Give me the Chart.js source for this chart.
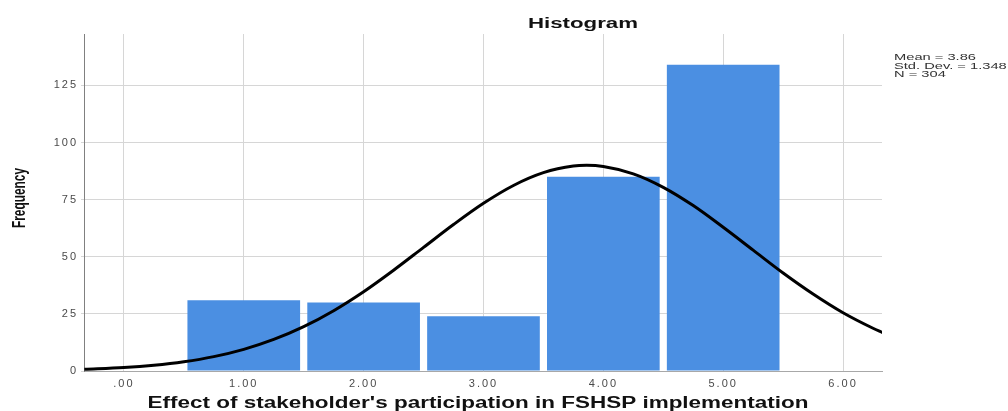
<!DOCTYPE html>
<html>
<head>
<meta charset="utf-8">
<script src="https://cdn.jsdelivr.net/npm/chart.js@4.4.1/dist/chart.umd.min.js"></script>
<style>
  html, body { margin: 0; padding: 0; background: #ffffff; }
  #wrap { width: 1008px; height: 411px; position: relative; }
</style>
</head>
<body>
<div id="wrap"><canvas id="chart"></canvas></div>
<script>
// Histogram bins (bin centre) and their counts
const binCenters = [1, 2, 3, 4, 5];
const frequencies = [31, 30, 24, 85, 134];

// Fitted normal curve, sampled along the x axis
const curveX = [-0.33, 0, 0.25, 0.5, 0.75, 1, 1.25, 1.5, 1.75, 2, 2.25, 2.5, 2.75, 3, 3.25, 3.5, 3.75, 3.86, 4, 4.25, 4.5, 4.75, 5, 5.25, 5.5, 5.75, 6, 6.25, 6.33];
const curveY = [0.72, 1.49, 2.49, 4.02, 6.28, 9.47, 13.8, 19.4, 26.4, 34.7, 44.1, 54.1, 64.1, 73.4, 81.2, 86.8, 89.7, 90.0, 89.5, 86.3, 80.4, 72.4, 62.9, 52.9, 42.9, 33.7, 25.5, 18.7, 16.8];

// Axis ticks
const xTickValues = [0, 1, 2, 3, 4, 5, 6];
const yTickValues = [0, 25, 50, 75, 100, 125];

// Text
const chartTitle = 'Histogram';
const xTitle = "Effect of stakeholder's participation in FSHSP implementation";
const yTitle = 'Frequency';
const statLines = ['Mean = 3.86', 'Std. Dev. = 1.348', 'N = 304'];

const FONT = "'Liberation Sans', Arial, sans-serif";

function drawStretched(ctx, text, x, y, font, sx, align, sy) {
  ctx.save();
  ctx.font = font;
  ctx.textAlign = align;
  ctx.textBaseline = 'alphabetic';
  ctx.translate(x, y);
  ctx.scale(sx, sy || 1);
  ctx.fillText(text, 0, 0);
  ctx.restore();
}

function fitWidth(ctx, text, font, width) {
  ctx.save();
  ctx.font = font;
  const w = ctx.measureText(text).width;
  ctx.restore();
  return width / w;
}

const textPlugin = {
  id: 'histText',
  beforeDraw(chart) {
    chart.ctx.letterSpacing = '2px';
  },
  afterDraw(chart) {
    const ctx = chart.ctx;
    ctx.letterSpacing = '0px';
    ctx.fillStyle = '#111111';

    const tFont = 'bold 14px ' + FONT;
    drawStretched(ctx, chartTitle, 583, 28, tFont, fitWidth(ctx, chartTitle, tFont, 110), 'center');

    const xFont = 'bold 16px ' + FONT;
    drawStretched(ctx, xTitle, 478, 408, xFont, fitWidth(ctx, xTitle, xFont, 661), 'center');

    // Vertical axis title, narrow bold with tall glyphs
    const yFont = "bold 14px 'Liberation Sans Narrow', 'Liberation Sans', Arial, sans-serif";
    const ySx = fitWidth(ctx, yTitle, yFont, 60);
    ctx.save();
    ctx.translate(25, 198);
    ctx.rotate(-Math.PI / 2);
    drawStretched(ctx, yTitle, 0, 0, yFont, ySx, 'center', 1.3);
    ctx.restore();

    ctx.fillStyle = '#333333';
    const sFont = '9px ' + FONT;
    const sSx = fitWidth(ctx, statLines[0], sFont, 82);
    statLines.forEach((line, i) => {
      drawStretched(ctx, line, 894, 60 + i * 8.7, sFont, sSx, 'left');
    });
  }
};

new Chart(document.getElementById('chart'), {
  type: 'bar',
  data: {
    datasets: [
      {
        type: 'line',
        data: curveX.map((x, i) => ({ x: x, y: curveY[i] })),
        borderColor: '#000000',
        borderWidth: 3,
        pointRadius: 0,
        fill: false,
        cubicInterpolationMode: 'monotone',
        order: 0
      },
      {
        type: 'bar',
        data: binCenters.map((x, i) => ({ x: x, y: frequencies[i] })),
        backgroundColor: '#4b8fe2',
        borderWidth: 0,
        barPercentage: 0.94,
        categoryPercentage: 1,
        order: 1
      }
    ]
  },
  options: {
    responsive: true,
    maintainAspectRatio: false,
    animation: false,
    layout: { padding: { top: 34, right: 126, left: 0, bottom: 0 } },
    plugins: { legend: { display: false }, tooltip: { enabled: false }, title: { display: false } },
    scales: {
      x: {
        type: 'linear',
        min: -0.333,
        max: 6.325,
        offset: false,
        afterFit(scale) { scale.height = 40; },
        afterBuildTicks(scale) { scale.ticks = xTickValues.map(v => ({ value: v })); },
        grid: { color: '#d6d6d6', lineWidth: 1, tickLength: 0, offset: false },
        border: { color: '#a8a8a8', width: 1 },
        ticks: {
          padding: 6,
          maxRotation: 0,
          autoSkip: false,
          color: '#4a4a4a',
          font: { family: FONT, size: 11 },
          callback: v => (v === 0 ? '.00' : v.toFixed(2))
        }
      },
      y: {
        type: 'linear',
        min: 0,
        max: 147.5,
        afterFit(scale) { scale.width = 84; },
        afterBuildTicks(scale) { scale.ticks = yTickValues.map(v => ({ value: v })); },
        grid: { color: '#d6d6d6', lineWidth: 1, tickLength: 3 },
        border: { color: '#808080', width: 1 },
        ticks: {
          padding: 3,
          color: '#4a4a4a',
          font: { family: FONT, size: 11 },
          callback: v => String(v)
        }
      }
    }
  },
  plugins: [textPlugin]
});
</script>
</body>
</html>
